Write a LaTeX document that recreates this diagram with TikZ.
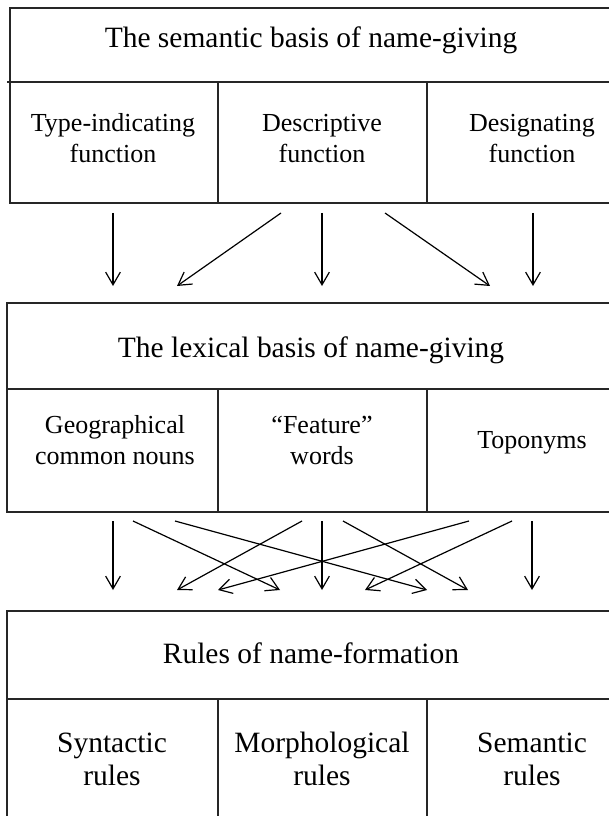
\documentclass[tikz,border=0pt]{standalone}
\usepackage{fontspec}
\setmainfont{Liberation Serif}
\usetikzlibrary{arrows.meta}

\begin{document}
\begin{tikzpicture}[
  x=0.75pt, y=-0.75pt,
  frame/.style={draw=black!85, line width=1.2pt},
  head/.style={anchor=base, inner sep=0pt, font=\fontsize{22.1pt}{24.75pt}\selectfont},
  cellA/.style={anchor=base, inner sep=0pt, align=center, font=\fontsize{19.5pt}{23.25pt}\selectfont},
  cellB/.style={anchor=base, inner sep=0pt, align=center, font=\fontsize{22.1pt}{24.75pt}\selectfont},
  arr/.style={-{Straight Barb[length=9.5pt, width=11pt]}, line width=0.9pt},
]
\useasboundingbox (0,0) rectangle (609,816);

% semantic basis
\draw[frame] (10,8) rectangle (614,203);
\draw[frame] (7,82) -- (614,82);
\draw[frame] (218,82) -- (218,203) (427,82) -- (427,203);
\node[head] (sem) at (311,48) {The semantic basis of name-giving};
\node[cellA] (tif) at (113,163) {Type-indicating\\function};
\node[cellA] (dsc) at (322,163) {Descriptive\\function};
\node[cellA] (dsg) at (532,163) {Designating\\function};

% lexical basis
\draw[frame] (7,303) rectangle (614,512);
\draw[frame] (7,389) -- (614,389);
\draw[frame] (218,389) -- (218,512) (427,389) -- (427,512);
\node[head] (lex) at (311,357) {The lexical basis of name-giving};
\node[cellA] (gcn) at (115,464) {Geographical\\common nouns};
\node[cellA] (ftw) at (322,464) {``Feature''\\words};
\node[cellA] (top) at (532,448) {Toponyms};

% rules of name-formation
\draw[frame] (7,611) rectangle (614,830);
\draw[frame] (7,699) -- (614,699);
\draw[frame] (218,699) -- (218,830) (427,699) -- (427,830);
\node[head] (rnf) at (311,663) {Rules of name-formation};
\node[cellB] (syn) at (112,785) {Syntactic\\rules};
\node[cellB] (mor) at (322,785) {Morphological\\rules};
\node[cellB] (smr) at (532,785) {Semantic\\rules};

% arrow ends
\foreach \i/\a/\b in {1/113/113, 2/281/177, 3/322/322, 4/385/490, 5/533/533} {
  \coordinate (u\i) at (\a,213);
  \coordinate (v\i) at (\b,286);
}
\foreach \i/\a/\b in {1/113/113, 2/133/280, 3/175/427, 4/302/177, 5/322/322,
                      6/343/468, 7/469/218, 8/512/365, 9/532/532} {
  \coordinate (p\i) at (\a,521);
  \coordinate (q\i) at (\b,590);
}

\foreach \i in {1,...,5} {
  \draw[arr] (u\i) -- (v\i);
}
\foreach \i in {1,...,9} {
  \draw[arr] (p\i) -- (q\i);
}

\end{tikzpicture}
\end{document}
